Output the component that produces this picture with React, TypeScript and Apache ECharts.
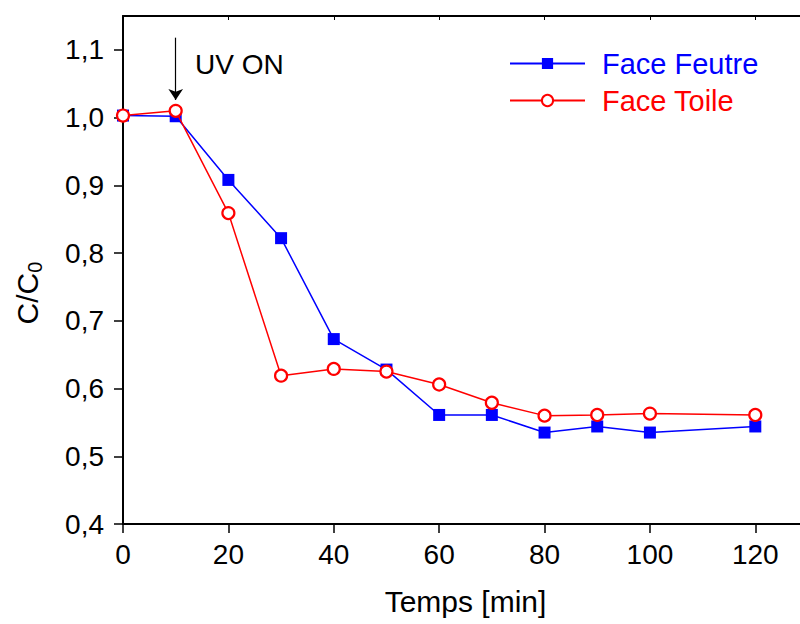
import React, { useEffect, useRef } from "react";
import * as echarts from "echarts";

const times = [0, 10, 20, 30, 40, 50, 60, 70, 80, 90, 100, 120];
const feutre = [1.003, 1.002, 0.908, 0.822, 0.673, 0.628, 0.561, 0.561, 0.535, 0.544, 0.535, 0.544];
const toile = [1.003, 1.01, 0.859, 0.619, 0.629, 0.625, 0.606, 0.579, 0.56, 0.561, 0.563, 0.561];
const seriesNames = ["Face Feutre", "Face Toile"];
const uvArrow = { x: 10, yStart: 1.118, yEnd: 1.026 };
const uvLabel = { x: 13.66, y: 1.079, text: "UV ON" };

const FONT = "Arial, 'Liberation Sans', sans-serif";

export default function App() {
  const ref = useRef<HTMLDivElement>(null);
  useEffect(() => {
    if (!ref.current) return;
    const chart = echarts.init(ref.current, null, { renderer: "svg" });
    const fmtY = (v: number) => v.toFixed(1).replace(".", ",");
    chart.setOption({
      animation: false,
      backgroundColor: "#ffffff",
      textStyle: { fontFamily: FONT },
      grid: { left: 123, right: 12, top: 16, bottom: 100, containLabel: false },
      legend: {
        orient: "vertical",
        left: 509,
        top: 49,
        padding: 0,
        itemWidth: 75,
        itemHeight: 14,
        itemGap: 8,
        textStyle: { fontSize: 29, fontFamily: FONT, padding: [0, 0, 0, 12] },
        data: [
          { name: seriesNames[0], textStyle: { color: "#0000ff" } },
          { name: seriesNames[1], textStyle: { color: "#ff0000" } },
        ],
      },
      xAxis: [
        {
          type: "value",
          min: 0,
          max: 130,
          interval: 20,
          name: "Temps [min]",
          nameLocation: "middle",
          nameGap: 62,
          nameTextStyle: { fontSize: 30, color: "#000", fontFamily: FONT },
          axisLine: { show: true, onZero: false, lineStyle: { color: "#000", width: 2 } },
          axisTick: { show: true, length: 9, lineStyle: { color: "#000", width: 1.5 } },
          axisLabel: { fontSize: 28, color: "#000", margin: 16, showMaxLabel: false, fontFamily: FONT },
          splitLine: { show: false },
        },
        {
          type: "value",
          position: "top",
          min: 0,
          max: 130,
          interval: 20,
          axisLine: { show: true, onZero: false, lineStyle: { color: "#000", width: 2 } },
          axisTick: { show: true, inside: true, length: 4, lineStyle: { color: "#000", width: 1 } },
          axisLabel: { show: false },
          splitLine: { show: false },
        },
      ],
      yAxis: [
        {
          type: "value",
          min: 0.4,
          max: 1.15,
          interval: 0.1,
          axisLine: { show: true, onZero: false, lineStyle: { color: "#000", width: 2 } },
          axisTick: { show: true, length: 9, lineStyle: { color: "#000", width: 1.5 } },
          axisLabel: { fontSize: 28, color: "#000", margin: 19, showMaxLabel: false, formatter: fmtY, fontFamily: FONT },
          splitLine: { show: false },
        },
      ],
      graphic: [
        {
          type: "text",
          x: 27,
          y: 293,
          rotation: Math.PI / 2,
          style: {
            text: "C/C{sub|0}",
            fontSize: 30,
            fontFamily: FONT,
            fill: "#000",
            align: "center",
            verticalAlign: "middle",
            rich: {
              sub: { fontSize: 20, fontFamily: FONT, fill: "#000", padding: [16, 0, 0, 0] },
            },
          },
        },
      ],
      series: [
        {
          name: seriesNames[0],
          type: "line",
          data: times.map((t, i) => [t, feutre[i]]),
          symbol: "rect",
          symbolSize: 12,
          itemStyle: { color: "#0000ff" },
          lineStyle: { color: "#0000ff", width: 1.5 },
          z: 3,
        },
        {
          name: seriesNames[1],
          type: "line",
          data: times.map((t, i) => [t, toile[i]]),
          symbol: "circle",
          symbolSize: 12,
          itemStyle: { color: "#ffffff", borderColor: "#ff0000", borderWidth: 2.2 },
          lineStyle: { color: "#ff0000", width: 1.5 },
          z: 4,
          markLine: {
            silent: true,
            symbol: ["none", "arrow"],
            symbolSize: 11,
            symbolOffset: [0, 0],
            itemStyle: { color: "#000" },
            lineStyle: { color: "#000", width: 1.2, type: "solid" },
            label: { show: false },
            emphasis: { disabled: true },
            data: [[{ coord: [uvArrow.x, uvArrow.yStart] }, { coord: [uvArrow.x, uvArrow.yEnd] }]],
          },
          markPoint: {
            silent: true,
            symbol: "circle",
            symbolSize: 0,
            itemStyle: { color: "transparent" },
            label: {
              show: true,
              position: "right",
              distance: 0,
              formatter: uvLabel.text,
              color: "#000",
              fontSize: 28,
              fontFamily: FONT,
            },
            data: [{ coord: [uvLabel.x, uvLabel.y] }],
          },
        },
      ],
    });
    return () => chart.dispose();
  }, []);
  return (
    <div style={{ position: "absolute", left: 0, top: 0, width: 800, height: 624, overflow: "hidden", background: "#fff" }}>
      <div ref={ref} style={{ width: 820, height: 624 }} />
    </div>
  );
}
